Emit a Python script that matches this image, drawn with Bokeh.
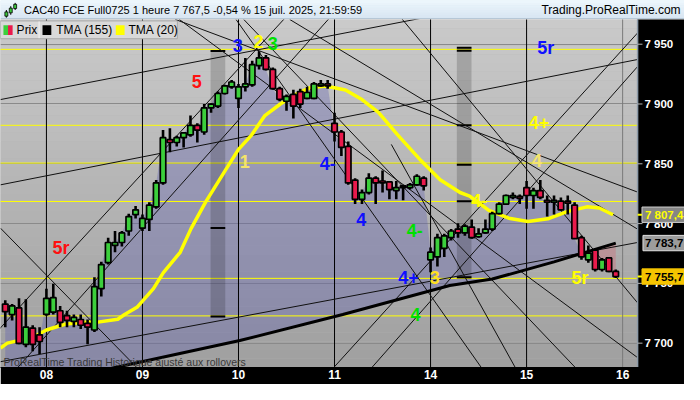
import numpy as np
from bokeh.plotting import figure
from bokeh.layouts import column
from bokeh.models import Range1d, FixedTicker
from bokeh.core.properties import value
from bokeh.embed import file_html
from bokeh.resources import INLINE

FONT = "Liberation Sans"

# ---------------- data ----------------
day_ticks = [0, 14, 28, 42, 56, 70, 84]
day_labels = ["08", "09", "10", "11", "14", "15", "16"]
price_ticks = [7700, 7750, 7800, 7850, 7900, 7950]
price_labels = ["7 700", "7 750", "7 800", "7 850", "7 900", "7 950"]

bar_x = list(range(-6, 84))
opens = [7732.7, 7723.9, 7729.5, 7699.0, 7712.6, 7707.0,
         7724.0, 7726.0, 7727.1, 7723.1, 7718.2, 7719.8, 7716.6, 7711.0, 7745.6, 7767.3, 7781.7, 7784.2, 7793.8, 7807.5,
         7796.2, 7803.5, 7813.9, 7834.0, 7870.2, 7867.8, 7871.8, 7874.2, 7882.2, 7876.6, 7896.7, 7898.3, 7908.8, 7914.4,
         7904.7, 7914.4, 7916.0, 7932.1, 7938.5, 7928.9, 7912.8, 7902.3, 7908.0, 7910.4, 7904.7, 7904.7, 7915.2, 7916.8,
         7883.8, 7876.6, 7864.5, 7836.4, 7820.3, 7825.9, 7838.0, 7835.6, 7834.8, 7827.6, 7830.0, 7830.0, 7832.4, 7838.0,
         7769.7, 7772.1, 7779.3, 7788.2, 7795.4, 7792.2, 7797.0, 7789.0, 7792.2, 7795.4, 7808.3, 7816.3, 7821.9, 7822.7,
         7830.0, 7823.5, 7827.6, 7819.5, 7817.9, 7818.7, 7818.7, 7815.5, 7788.2, 7769.7, 7777.7, 7761.6, 7771.3, 7760.0]
highs = [7735.9, 7732.7, 7737.5, 7736.7, 7715.0, 7713.4,
         7745.6, 7749.6, 7731.1, 7727.1, 7723.9, 7723.9, 7719.8, 7755.2, 7768.1, 7788.2, 7793.8, 7793.8, 7808.3, 7814.7,
         7807.5, 7817.9, 7836.4, 7878.2, 7879.8, 7873.4, 7876.6, 7890.3, 7883.8, 7899.9, 7900.7, 7910.4, 7916.0, 7920.0,
         7916.8, 7938.5, 7936.1, 7944.1, 7940.9, 7930.5, 7914.4, 7908.0, 7912.0, 7912.8, 7914.4, 7918.4, 7920.0, 7920.0,
         7892.7, 7878.2, 7868.6, 7838.0, 7828.4, 7842.0, 7839.6, 7844.4, 7835.6, 7835.6, 7832.4, 7834.0, 7841.2, 7839.6,
         7780.1, 7791.4, 7791.4, 7795.4, 7800.2, 7799.4, 7803.5, 7796.2, 7803.5, 7809.9, 7817.9, 7824.3, 7825.9, 7824.3,
         7835.6, 7830.0, 7836.4, 7823.5, 7823.5, 7821.9, 7823.5, 7817.9, 7789.8, 7781.7, 7779.3, 7771.3, 7772.1, 7761.6]
lows = [7713.4, 7719.0, 7699.0, 7696.5, 7693.3, 7690.9,
        7723.0, 7723.9, 7713.4, 7713.4, 7713.4, 7711.8, 7699.0, 7709.4, 7739.1, 7765.7, 7776.1, 7780.9, 7789.8, 7804.3,
        7793.8, 7793.8, 7812.3, 7832.4, 7859.7, 7864.5, 7863.7, 7872.6, 7867.8, 7874.2, 7892.7, 7896.7, 7908.0, 7912.8,
        7896.7, 7910.4, 7914.4, 7928.9, 7928.1, 7912.0, 7902.3, 7894.3, 7887.9, 7896.7, 7903.9, 7903.9, 7914.4, 7912.8,
        7868.6, 7856.5, 7832.4, 7816.3, 7816.3, 7824.3, 7816.3, 7825.9, 7820.3, 7820.3, 7819.5, 7828.4, 7831.6, 7827.6,
        7759.2, 7764.1, 7772.1, 7785.8, 7788.2, 7789.8, 7787.4, 7788.2, 7791.4, 7793.8, 7807.5, 7815.5, 7820.3, 7816.3,
        7812.3, 7812.3, 7820.3, 7805.9, 7807.5, 7810.7, 7807.5, 7787.4, 7769.7, 7767.3, 7760.0, 7760.0, 7759.2, 7754.4]
closes = [7726.3, 7731.1, 7699.8, 7713.4, 7699.0, 7701.4,
          7737.5, 7738.0, 7717.4, 7719.0, 7721.5, 7715.0, 7713.4, 7747.2, 7765.7, 7784.2, 7784.2, 7792.2, 7805.9, 7811.5,
          7804.3, 7815.5, 7834.0, 7871.8, 7867.8, 7871.8, 7875.8, 7882.2, 7878.2, 7896.7, 7899.9, 7908.8, 7915.2, 7918.4,
          7914.4, 7916.8, 7932.9, 7938.5, 7928.9, 7912.8, 7903.9, 7906.4, 7898.3, 7899.9, 7909.6, 7916.8, 7916.8, 7915.2,
          7876.6, 7863.7, 7834.0, 7820.3, 7825.9, 7838.0, 7834.0, 7834.0, 7828.4, 7830.0, 7831.6, 7832.4, 7839.6, 7831.6,
          7776.1, 7788.2, 7789.8, 7793.8, 7792.2, 7797.8, 7788.2, 7791.4, 7795.4, 7808.3, 7816.3, 7823.5, 7823.5, 7821.1,
          7823.5, 7827.6, 7821.9, 7817.9, 7819.5, 7811.5, 7817.1, 7787.4, 7772.1, 7775.3, 7761.6, 7769.7, 7760.0, 7755.7]

# TMA (20)
tma20_x = [-6.7, -5.7, -2.0, 0.0, 2.8, 5.6, 7.5, 10.4, 11.4, 13.2, 15.6, 17.05, 19.5, 21.1, 23.2, 26.1, 28.0,
           29.9, 31.8, 34.1, 36.5, 38.4, 40.7, 43.6, 46.0, 48.4, 51.2, 54.6, 57.4, 60.3, 61.7, 64.5, 67.4, 70.2,
           73.1, 75.9, 78.8, 80.6, 82.6]
tma20_y = [7696, 7700, 7705, 7711, 7716, 7717.4, 7717.6, 7720, 7724, 7730, 7745.6, 7759, 7776, 7796, 7818,
           7844.7, 7862, 7874, 7890, 7900, 7908.5, 7913.5, 7915, 7911.7, 7903.7, 7893, 7874.2, 7852.7, 7836.6,
           7826, 7823, 7811, 7804.5, 7801.8, 7804, 7810, 7814, 7813, 7807.4]
# TMA (155)
tma155_x = [-6.7, 10.87, 28.2, 43.2, 58.8, 65.0, 74.0, 83.0]
tma155_y = [7659.0, 7680.7, 7702.2, 7724.0, 7748.2, 7753.6, 7768.0, 7783.7]

# last values shown as flags on the price scale
flag_values = [7807.4, 7783.7, 7755.7]
flag_texts = ["7 807,4", "7 783,7", "7 755,7"]

# horizontal yellow levels
level_prices = [7945.7, 7882.2, 7850.6, 7818.5, 7754.2, 7722.8]

# drawn trend / fan lines (bar index, price)
seg_x0 = [-6.70, -6.70, -6.70, -6.70, -12.4, -4.56, 51.0, 41.88, 47.44, 50.28, 18.80, 35.47, 19.37, 28.77, 27.64]
seg_y0 = [7903.7, 7832.4, 7684.5, 7796.2, 7677.2, 7677.2, 7976.9, 7679.6, 7679.6, 7866.2, 7970.7, 7970.7,
          7970.7, 7970.7, 7970.7]
seg_x1 = [55.98, 86.18, 86.18, 13.25, 36.0, 42.45, 86.18, 86.18, 86.18, 68.66, 87.32, 87.32, 87.32, 77.64, 63.39]
seg_y1 = [7973.2, 7937.2, 7784.2, 7679.2, 7979.5, 7979.5, 7733.7, 7959.4, 7931.3, 7676.4, 7823.9, 7791.4,
          7683.1, 7676.4, 7679.7]

# grey vertical zones
zone_left = [23.93, 59.83]
zone_right = [26.07, 61.97]
zone_top = [7945.2, 7947.0]
zone_bottom = [7721.5, 7753.6]
zone_mark_x0 = [23.93, 23.93, 23.93, 59.83, 59.83, 59.83, 59.83, 59.83, 59.83]
zone_mark_x1 = [26.07, 26.07, 26.07, 61.97, 61.97, 61.97, 61.97, 61.97, 61.97]
zone_mark_y = [7944.4, 7796.4, 7722.2, 7947.0, 7944.6, 7882.2, 7849.3, 7818.7, 7755.2]

# wave labels
wave_text = ["5r", "5", "3", "2", "3", "1", "4-", "4", "4-", "4+", "3", "4", "4-", "4", "4+", "5r", "5r"]
wave_x = [2.14, 21.9, 27.9, 30.9, 33.0, 28.9, 41.0, 45.9, 53.7, 52.8, 56.6, 53.8, 63.1, 71.5, 71.8, 72.8, 77.8]
wave_y = [7779.3, 7918.4, 7948.9, 7952.2, 7950.6, 7851.7, 7850.1, 7803.4, 7794.6, 7755.2, 7755.2, 7723.9,
          7819.5, 7852.5, 7884.6, 7946.5, 7754.4]
wave_color = ["#ff1010", "#ff1010", "#1010ff", "#ffff00", "#00e000", "#f4e46a", "#1010ff", "#1010ff", "#00e000",
              "#1010ff", "#ffe020", "#00e000", "#ffff00", "#f4e46a", "#ffff00", "#1010ff", "#ffff00"]

# ---------------- geometry helpers (reference pixel -> data) ----------------
def X(px):
    return (px - 47.0) / 7.02

def Y(py):
    return 7986.74 - 0.8039 * py

X0, XF, X1 = X(0), X(652), X(700)
Y0, Y1 = Y(382), Y(20)
PX = 0.8039  # price units per reference pixel

# ---------------- header ----------------
hdr = figure(width=684, height=19, x_range=Range1d(0, 700), y_range=Range1d(20, 0),
             output_backend="svg", toolbar_location=None, min_border=0,
             x_axis_location=None, y_axis_location=None, outline_line_color=None,
             background_fill_color="#dcedf7")
hdr.grid.visible = False
hb = np.linspace(0, 20, 9)
hc = ["#%02x%02x%02x" % (int(236 - 3 * k), int(246 - 2.5 * k), int(252 - 1.5 * k)) for k in range(8)]
hdr.quad(left=0, right=700, top=hb[:-1], bottom=hb[1:], fill_color=hc, line_color=None)
hdr.segment(x0=[0], y0=[19.5], x1=[700], y1=[19.5], line_color="#94a8b8", line_width=1)
hdr.segment(x0=[6, 10.5, 15], y0=[10, 6, 2.5], x1=[6, 10.5, 15], y1=[18, 15, 10], line_color="black", line_width=1)
hdr.quad(left=[4.5, 9, 13.5], right=[7.5, 12, 16.5], top=[12, 8, 4], bottom=[16.5, 13, 8.5],
         fill_color=["#3cc83c", "#3cc83c", "#3cc83c"], line_color="black", line_width=0.8)
hdr.text(x=[24], y=[10.5], text=["CAC40 FCE Full0725 1 heure 7 767,5 -0,54 % 15 juil. 2025, 21:59:59"],
         text_font=value(FONT), text_font_size="11px", text_baseline="middle", text_align="left",
         text_color="black")
hdr.text(x=[696], y=[10.5], text=["Trading.ProRealTime.com"], text_font=value(FONT), text_font_size="12px",
         text_baseline="middle", text_align="right", text_color="black")

# ---------------- main chart ----------------
p = figure(width=684, height=365, x_range=Range1d(X0, X1), y_range=Range1d(Y0, Y1),
           output_backend="svg", toolbar_location=None, y_axis_location=None,
           min_border_left=0, min_border_top=0, min_border_right=0, min_border_bottom=17,
           border_fill_color="black", background_fill_color="#b5b5b5", outline_line_color=None)

# background gradient
nb = 40
edges = np.linspace(Y0, Y1, nb + 1)
bg_cols = []
for k in range(nb):
    g = int(160 + (202 - 160) * k / (nb - 1))
    bg_cols.append("#%02x%02x%02x" % (g, g, g))
p.quad(left=X0 - 1, right=XF + 1, bottom=edges[:-1], top=edges[1:], fill_color=bg_cols, line_color=None,
       level="image")

# time axis
p.xaxis.ticker = FixedTicker(ticks=day_ticks, minor_ticks=[])
p.xaxis.major_label_overrides = dict(zip(day_ticks, day_labels))
p.xaxis.major_label_text_color = "white"
p.xaxis.major_label_text_font = FONT
p.xaxis.major_label_text_font_style = "bold"
p.xaxis.major_label_text_font_size = "12px"
p.xaxis.major_tick_out = 0
p.xaxis.major_tick_in = 0
p.xaxis.axis_line_color = "black"
p.xaxis.major_label_standoff = 2

p.ygrid.ticker = FixedTicker(ticks=price_ticks)
p.ygrid.grid_line_color = "#8a8a8a"
p.xgrid.grid_line_color = None

# fill between close and TMA(155)
bx = np.array(bar_x, dtype=float)
cl = np.array(closes)
t155 = np.interp(bx, tma155_x, tma155_y)
p.varea(x=bx, y1=t155, y2=np.maximum(cl, t155), fill_color="#5656b0", fill_alpha=0.32)
p.varea(x=bx, y1=np.minimum(cl, t155), y2=t155, fill_color="#d06070", fill_alpha=0.35)

# yellow levels
p.segment(x0=X0 - 1, x1=XF, y0=level_prices, y1=level_prices, line_color="#ffff00", line_width=1)

# day separators
day_cols = ["black"] * 6 + ["#7a7a7a"]
p.segment(x0=day_ticks, x1=day_ticks, y0=Y0 - 10, y1=Y1 + 10, line_color=day_cols, line_width=1)

# grey zones
p.quad(left=zone_left, right=zone_right, top=zone_top, bottom=zone_bottom, fill_color="black",
       fill_alpha=0.17, line_color=None)
p.segment(x0=zone_mark_x0, x1=zone_mark_x1, y0=zone_mark_y, y1=zone_mark_y, line_color="black", line_width=2)

# trend lines
p.segment(x0=seg_x0, y0=seg_y0, x1=seg_x1, y1=seg_y1, line_color="#101010", line_width=1)

# TMA lines
p.line(tma155_x, tma155_y, line_color="black", line_width=3)
p.line(tma20_x, tma20_y, line_color="#ffff00", line_width=3.5, line_join="round")

# candles
op = np.array(opens)
up = cl >= op
body_top = np.maximum(op, cl)
body_bot = np.minimum(op, cl)
colors = np.where(up, "#3ccf3c", "#ea1a4c")
p.segment(x0=bx, x1=bx, y0=lows, y1=highs, line_color="black", line_width=2.6)
p.vbar(x=bx, width=0.8, top=body_top, bottom=body_bot, fill_color=colors, line_color="black", line_width=1.7)

# wave labels
p.text(x=wave_x, y=wave_y, text=wave_text, text_color=wave_color, text_font=value(FONT),
       text_font_size="18px", text_font_style="bold", text_align="center", text_baseline="middle")

# legend bar
p.quad(left=[X(0)], right=[X(181)], top=[Y(21.5)], bottom=[Y(40)], fill_color="#d9d9d9", line_color="#a8a8a8")
p.segment(x0=[X(39.5), X(114.5)], x1=[X(39.5), X(114.5)], y0=[Y(22)], y1=[Y(39.5)], line_color="#f4f4f4",
          line_width=1)
p.quad(left=[X(3), X(7.7), X(43), X(118)], right=[X(7.7), X(12.4), X(52), X(127)],
       top=[Y(26)] * 4, bottom=[Y(36)] * 4,
       fill_color=["#3ccf3c", "#ea1a4c", "black", "#ffff00"], line_color=None)
p.text(x=[X(16.5), X(57), X(131)], y=[Y(31)] * 3, text=["Prix", "TMA (155)", "TMA (20)"],
       text_font=value(FONT), text_font_size="12px", text_baseline="middle", text_color="black")

p.text(x=[X(3)], y=[Y(376)], text=["ProRealTime Trading  Historique ajusté aux rollovers"],
       text_font=value(FONT), text_font_size="10.5px", text_baseline="middle", text_color="#383838")

# ---------------- price scale (right) ----------------
p.quad(left=[XF], right=[X1 + 1], bottom=[Y0 - 10], top=[Y1 + 10], fill_color="black", line_color=None)
p.segment(x0=[XF], x1=[XF], y0=[Y0 - 10], y1=[Y1 + 10], line_color="#8c9aa8", line_width=1.5)
p.segment(x0=XF, x1=X(657), y0=price_ticks, y1=price_ticks, line_color="#b4b4b4", line_width=1)
p.text(x=X(659), y=price_ticks, text=price_labels, text_color="white", text_font=value(FONT),
       text_font_size="11.5px", text_font_style="bold", text_baseline="middle", text_align="left")

# flags
flag_bg = ["#868686", "#9c9c9c", "#f5c400"]
flag_border = ["#cfcfcf", "#e2e2e2", "#f5c400"]
flag_txt = ["#ffff00", "black", "black"]
fv = np.array(flag_values)
p.quad(left=[X(656.5), X(657.5), X(656.5)], right=X1 + 1, bottom=fv - 8 * PX, top=fv + 8 * PX,
       fill_color=flag_bg, line_color=flag_border, line_width=1)
p.segment(x0=XF, x1=X(656.5), y0=[flag_values[0], flag_values[2]], y1=[flag_values[0], flag_values[2]],
          line_color="#ffff00", line_width=2)
p.text(x=X(659.5), y=fv, text=flag_texts, text_color=flag_txt, text_font=value(FONT), text_font_size="11.5px",
       text_font_style="bold", text_baseline="middle", text_align="left")

page = column(hdr, p, spacing=0)
open("out.html", "w").write(file_html(page, INLINE))
